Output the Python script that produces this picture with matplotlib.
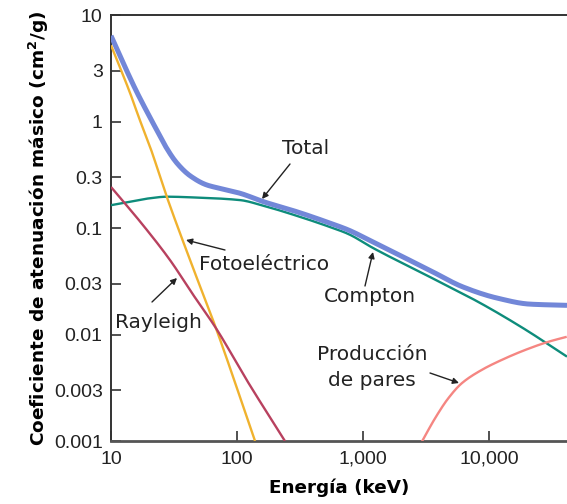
import matplotlib
matplotlib.use("Agg")
import matplotlib.pyplot as plt
import numpy as np

# Data (energy in keV, mass attenuation in cm^2/g)
total_E = [10, 13, 16, 19.2, 23.1, 27.7, 33.2, 42.4, 57.5, 73, 106, 162, 300, 550, 764, 1200, 3400, 6200, 11600, 21100, 41600]
total_mu = [6.4, 3.2, 1.9, 1.25, 0.83, 0.56, 0.41, 0.31, 0.254, 0.236, 0.212, 0.177, 0.142, 0.111, 0.096, 0.074, 0.040, 0.028, 0.022, 0.0193, 0.0188]

photo_E = [10, 14.2, 16.7, 20.4, 27.7, 42.4, 68, 139]
photo_mu = [5.2, 1.84, 1.08, 0.58, 0.197, 0.050, 0.0115, 0.001]

compton_E = [10, 14.2, 20, 27.7, 50, 106, 162, 300, 550, 764, 1200, 3400, 8500, 18600, 41600]
compton_mu = [0.164, 0.177, 0.19, 0.197, 0.193, 0.183, 0.162, 0.130, 0.102, 0.088, 0.065, 0.0347, 0.0198, 0.0115, 0.0062]

rayleigh_E = [10, 18, 29.4, 45, 68, 120, 240]
rayleigh_mu = [0.243, 0.106, 0.050, 0.0235, 0.0115, 0.0037, 0.001]

pair_E = [2925, 3726, 4753, 6070, 8750, 12600, 19300, 29600, 41400]
pair_mu = [0.00098, 0.00163, 0.00252, 0.00348, 0.00465, 0.00577, 0.00715, 0.00855, 0.00952]

yticks = [10, 3, 1, 0.3, 0.1, 0.03, 0.01, 0.003, 0.001]
ytick_labels = ["10", "3", "1", "0.3", "0.1", "0.03", "0.01", "0.003", "0.001"]
xticks = [10, 100, 1000, 10000]
xtick_labels = ["10", "100", "1,000", "10,000"]


def smooth_curve(xs, ys, n=300):
    """Monotone cubic (PCHIP) drawing of the read points in log-log space."""
    lx = np.log10(np.asarray(xs, float))
    ly = np.log10(np.asarray(ys, float))
    h = np.diff(lx)
    d = np.diff(ly) / h
    m = np.zeros_like(lx)
    for k in range(1, len(lx) - 1):
        if d[k - 1] * d[k] > 0:
            w1 = 2 * h[k] + h[k - 1]
            w2 = h[k] + 2 * h[k - 1]
            m[k] = (w1 + w2) / (w1 / d[k - 1] + w2 / d[k])
        else:
            m[k] = 0.0
    m[0] = d[0]
    m[-1] = d[-1]
    xn = np.linspace(lx[0], lx[-1], n)
    idx = np.clip(np.searchsorted(lx, xn) - 1, 0, len(h) - 1)
    t = (xn - lx[idx]) / h[idx]
    h00 = 2 * t**3 - 3 * t**2 + 1
    h10 = t**3 - 2 * t**2 + t
    h01 = -2 * t**3 + 3 * t**2
    h11 = t**3 - t**2
    yn = h00 * ly[idx] + h10 * h[idx] * m[idx] + h01 * ly[idx + 1] + h11 * h[idx] * m[idx + 1]
    return 10 ** xn, 10 ** yn


fig = plt.figure(figsize=(5.67, 5.04), dpi=100)
ax = fig.add_axes([0.1958, 0.125, 0.8042, 0.845])

ax.plot(*smooth_curve(compton_E, compton_mu), color="#0e8c7b", lw=1.7, solid_capstyle="butt", zorder=3)
ax.plot(*smooth_curve(total_E, total_mu), color="#7287d8", lw=3.6, solid_capstyle="butt", zorder=4)
ax.plot(*smooth_curve(photo_E, photo_mu), color="#f0b22e", lw=1.7, solid_capstyle="butt", zorder=5)
ax.plot(*smooth_curve(rayleigh_E, rayleigh_mu), color="#b8415f", lw=1.7, solid_capstyle="butt", zorder=5)
ax.plot(*smooth_curve(pair_E, pair_mu), color="#f58682", lw=1.7, solid_capstyle="butt", zorder=5)

ax.set_xscale("log")
ax.set_yscale("log")
ax.set_xlim(10, 41600)
ax.set_ylim(0.001, 10)

ax.set_yticks(yticks)
ax.set_yticklabels(ytick_labels, family="Liberation Sans", fontsize=14, color="#222222")
ax.set_xticks(xticks)
ax.set_xticklabels(xtick_labels, family="Liberation Sans", fontsize=14, color="#222222")
ax.minorticks_off()
ax.tick_params(axis="both", direction="in", length=7, width=1.2, color="#333333")
ax.tick_params(axis="y", pad=6)
ax.tick_params(axis="x", pad=7)

ax.spines["right"].set_visible(False)
for s in ["left", "top"]:
    ax.spines[s].set_color("#333333")
    ax.spines[s].set_linewidth(1.4)
ax.spines["bottom"].set_color("#555555")
ax.spines["bottom"].set_linewidth(2)

ax.set_xlabel("Energía (keV)", fontsize=13.2, fontweight="bold", family="DejaVu Sans", labelpad=8)
ax.set_ylabel("Coeficiente de atenuación másico (cm$\\mathbf{^2}$/g)", fontsize=13.3,
              fontweight="bold", family="DejaVu Sans", labelpad=2)

fs = 14.5
tc = "#222222"
arrow = dict(arrowstyle="-|>", color="#222222", lw=1.0, mutation_scale=9, shrinkA=0, shrinkB=0)


def pix(xp, yp):
    # figure pixel coordinates (from top-left) -> figure fraction
    return (xp / 567.0, 1 - yp / 504.0)


ax.annotate("", xy=pix(262, 199), xycoords="figure fraction", xytext=pix(290, 164),
            textcoords="figure fraction", arrowprops=arrow)
fig.text(*pix(306, 148), "Total", fontsize=fs, ha="center", va="center", color=tc)

ax.annotate("", xy=pix(186, 240), xycoords="figure fraction", xytext=pix(225, 250),
            textcoords="figure fraction", arrowprops=arrow)
fig.text(*pix(264, 264), "Fotoeléctrico", fontsize=fs, ha="center", va="center", color=tc)

ax.annotate("", xy=pix(373, 252), xycoords="figure fraction", xytext=pix(365, 286),
            textcoords="figure fraction", arrowprops=arrow)
fig.text(*pix(370, 297), "Compton", fontsize=fs, ha="center", va="center", color=tc)

ax.annotate("", xy=pix(177, 278), xycoords="figure fraction", xytext=pix(152, 302),
            textcoords="figure fraction", arrowprops=arrow)
fig.text(*pix(158, 322), "Rayleigh", fontsize=fs, ha="center", va="center", color=tc)

ax.annotate("", xy=pix(459, 383), xycoords="figure fraction", xytext=pix(430, 373),
            textcoords="figure fraction", arrowprops=arrow)
fig.text(*pix(372, 354), "Producción", fontsize=fs, ha="center", va="center", color=tc)
fig.text(*pix(372, 381), "de pares", fontsize=fs, ha="center", va="center", color=tc)

fig.savefig("out.png", dpi=100)
